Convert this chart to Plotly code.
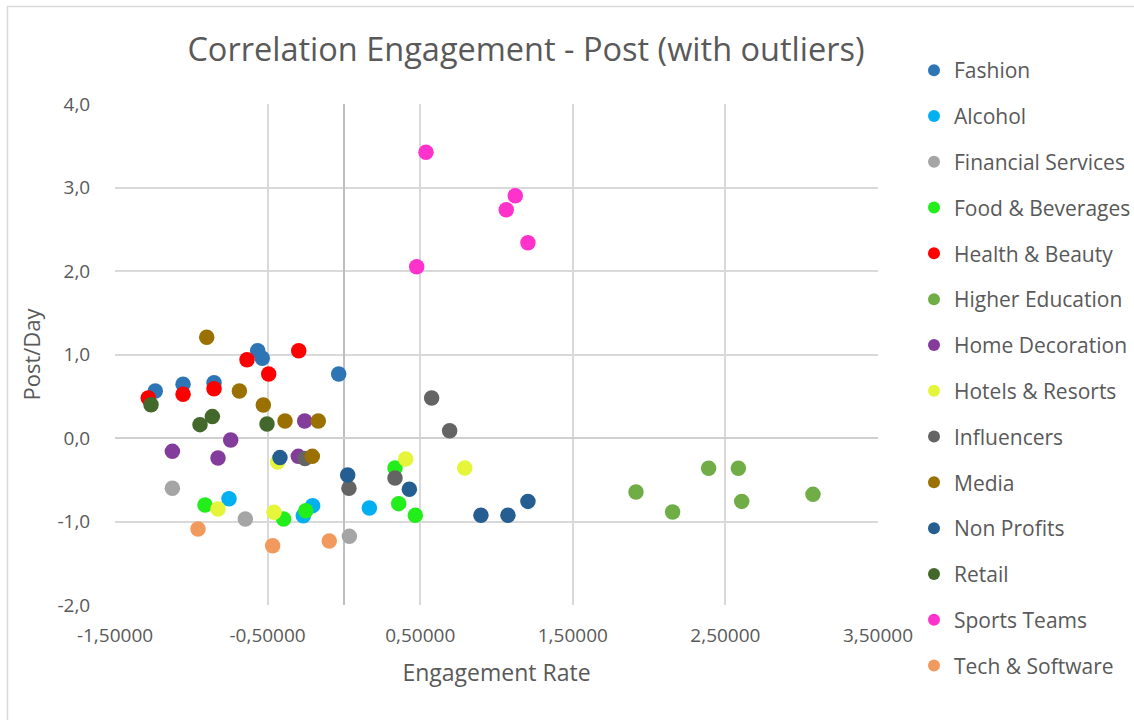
import plotly.graph_objects as go

# Engagement rate (x) and posts per day (y) per industry
categories = [
    "Fashion", "Alcohol", "Financial Services", "Food & Beverages",
    "Health & Beauty", "Higher Education", "Home Decoration",
    "Hotels & Resorts", "Influencers", "Media", "Non Profits",
    "Retail", "Sports Teams", "Tech & Software",
]

fashion_x = [-1.236, -1.054, -0.851, -0.565, -0.535, -0.034]
fashion_y = [0.563, 0.643, 0.662, 1.046, 0.954, 0.766]

alcohol_x = [-0.753, -0.266, -0.205, 0.167]
alcohol_y = [-0.727, -0.930, -0.810, -0.838]

financial_x = [-1.124, -0.646, 0.036]
financial_y = [-0.603, -0.970, -1.178]

food_x = [-0.910, -0.395, -0.250, 0.335, 0.359, 0.468]
food_y = [-0.802, -0.970, -0.870, -0.359, -0.786, -0.926]

health_x = [-1.282, -1.054, -0.851, -0.635, -0.493, -0.296]
health_y = [0.479, 0.523, 0.590, 0.938, 0.766, 1.046]

higher_ed_x = [1.914, 2.154, 2.390, 2.585, 2.607, 3.074]
higher_ed_y = [-0.647, -0.886, -0.363, -0.363, -0.759, -0.675]

home_deco_x = [-1.124, -0.825, -0.742, -0.299, -0.257]
home_deco_y = [-0.160, -0.240, -0.024, -0.220, 0.204]

hotels_x = [-0.825, -0.458, -0.434, 0.405, 0.792]
hotels_y = [-0.850, -0.890, -0.287, -0.251, -0.359]

influencers_x = [-0.255, 0.033, 0.335, 0.575, 0.693]
influencers_y = [-0.247, -0.603, -0.479, 0.479, 0.088]

media_x = [-0.899, -0.685, -0.528, -0.386, -0.168, -0.207]
media_y = [1.206, 0.563, 0.395, 0.204, 0.204, -0.220]

non_profits_x = [-0.419, 0.025, 0.429, 0.898, 1.075, 1.206]
non_profits_y = [-0.235, -0.443, -0.615, -0.926, -0.926, -0.759]

retail_x = [-1.264, -0.943, -0.862, -0.504]
retail_y = [0.399, 0.160, 0.256, 0.168]

sports_x = [0.538, 1.123, 1.064, 1.206, 0.477]
sports_y = [3.421, 2.902, 2.734, 2.339, 2.052]

tech_x = [-0.956, -0.467, -0.096]
tech_y = [-1.090, -1.290, -1.233]

x_tick_vals = [-1.5, -0.5, 0.5, 1.5, 2.5, 3.5]
x_tick_text = ["-1,50000", "-0,50000", "0,50000", "1,50000", "2,50000", "3,50000"]
y_tick_vals = [-2, -1, 0, 1, 2, 3, 4]
y_tick_text = ["-2,0", "-1,0", "0,0", "1,0", "2,0", "3,0", "4,0"]

series_x = [fashion_x, alcohol_x, financial_x, food_x, health_x, higher_ed_x,
            home_deco_x, hotels_x, influencers_x, media_x, non_profits_x,
            retail_x, sports_x, tech_x]
series_y = [fashion_y, alcohol_y, financial_y, food_y, health_y, higher_ed_y,
            home_deco_y, hotels_y, influencers_y, media_y, non_profits_y,
            retail_y, sports_y, tech_y]

colors = [
    "#2E75B6", "#00B0F0", "#A5A5A5", "#22EE1C", "#FF0000", "#70AD47",
    "#843C9C", "#E4F53A", "#646464", "#9A7000", "#255E91", "#43682B",
    "#FF33CC", "#F29A5E",
]

FONT = "Open Sans"
TEXT = "#595959"

fig = go.Figure()
for name, xs, ys, col in zip(categories, series_x, series_y, colors):
    fig.add_trace(go.Scatter(
        x=xs, y=ys, mode="markers", name=name, legendgroup=name,
        marker=dict(size=15.5, color=col, line=dict(width=0)),
    ))

W, H = 1134, 720
L, R, T, B = 115, 256, 104, 115
pw = W - L - R
ph = H - T - B


def px_x(p):
    return (p - L) / pw


def px_y(p):
    return (H - B - p) / ph


fig.update_layout(
    width=W, height=H,
    margin=dict(l=L, r=R, t=T, b=B, autoexpand=False),
    paper_bgcolor="white", plot_bgcolor="white",
    font=dict(family=FONT, color=TEXT, size=19),
    title=dict(
        text="Correlation Engagement - Post (with outliers)",
        x=526 / W, xanchor="center", y=1 - 50 / H, yanchor="middle",
        font=dict(size=32.5, color=TEXT, family=FONT),
    ),
    showlegend=True,
    legend=dict(
        x=px_x(914), xanchor="left", y=px_y(50), yanchor="top",
        font=dict(size=21, color=TEXT, family=FONT),
        tracegroupgap=15.5, itemsizing="constant", maxheight=715,
        bgcolor="rgba(0,0,0,0)",
    ),
    xaxis=dict(
        range=[-1.5, 3.5], tickvals=x_tick_vals, ticktext=x_tick_text,
        showgrid=True, gridcolor="#D9D9D9", gridwidth=1.5,
        zeroline=True, zerolinecolor="#BFBFBF", zerolinewidth=1.5,
        showline=False, ticks="outside", ticklen=13, tickcolor="rgba(0,0,0,0)",
        tickfont=dict(size=19, color=TEXT),
        title=dict(text="Engagement Rate", font=dict(size=23, color=TEXT), standoff=18),
    ),
    yaxis=dict(
        range=[-2, 4], tickvals=y_tick_vals, ticktext=y_tick_text,
        showgrid=True, gridcolor="#D9D9D9", gridwidth=1.5,
        zeroline=True, zerolinecolor="#D0D0D0", zerolinewidth=1.5,
        showline=False, ticks="outside", ticklen=20, tickcolor="rgba(0,0,0,0)",
        tickfont=dict(size=19, color=TEXT),
        title=dict(text="Post/Day", font=dict(size=22, color=TEXT), standoff=10),
    ),
    shapes=[dict(
        type="rect", xref="paper", yref="paper",
        x0=px_x(7.5), x1=px_x(1150), y0=px_y(6.5), y1=px_y(740),
        line=dict(color="#D9D9D9", width=1.5), fillcolor="rgba(0,0,0,0)",
        layer="below",
    )],
)

fig.write_html("out.html")
